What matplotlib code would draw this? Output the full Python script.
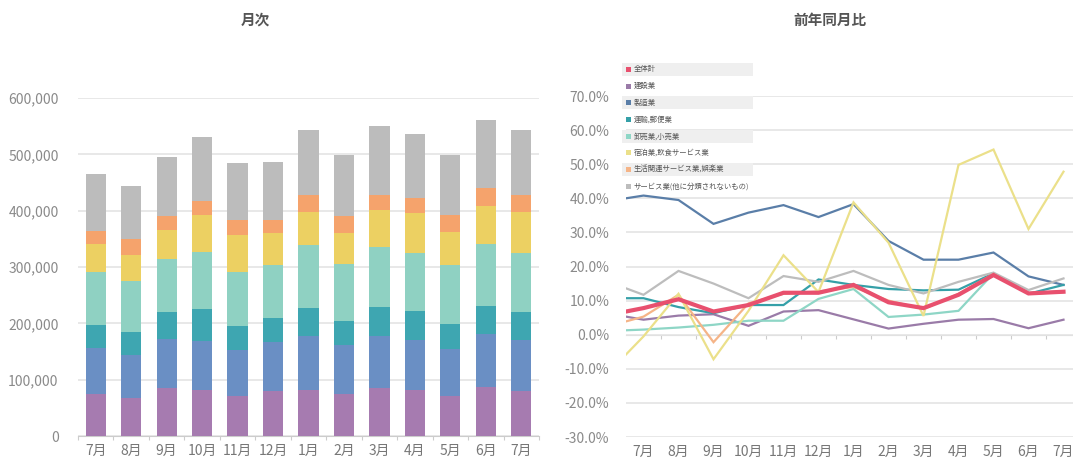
import matplotlib
matplotlib.use("Agg")
import matplotlib.pyplot as plt
from matplotlib.patches import Rectangle
from matplotlib.ticker import FuncFormatter
import numpy as np

plt.rcParams["font.family"] = ["Noto Sans CJK JP", "DejaVu Sans"]

# --- data ---
months = ["7月", "8月", "9月", "10月", "11月", "12月", "1月", "2月", "3月", "4月", "5月", "6月", "7月"]
names = ["全体計", "建設業", "製造業", "運輸,郵便業", "卸売業,小売業",
         "宿泊業,飲食サービス業", "生活関連サービス業,娯楽業", "サービス業(他に分類されないもの)"]

# 月次 (stacked, bottom -> top)
construction = [74500, 68000, 86000, 81000, 71000, 80000, 81000, 74000, 86000, 81000, 71000, 87000, 80000]
manufacturing = [82000, 75000, 86000, 88000, 82000, 86000, 96000, 87000, 92000, 90000, 84000, 94000, 90000]
transport = [41000, 41000, 48000, 56000, 42000, 44000, 50000, 44000, 51000, 51000, 44000, 49000, 50000]
wholesale = [94000, 91000, 95000, 102000, 96000, 93000, 112000, 100000, 107000, 103000, 104000, 111000, 105000]
hospitality = [50000, 47000, 51000, 65000, 65000, 57000, 59000, 56000, 65000, 70000, 59000, 68000, 73000]
lifestyle = [23000, 28000, 24000, 26000, 28000, 23000, 30000, 30000, 27000, 27000, 31000, 31000, 30000]
services = [100000, 93000, 106000, 113000, 101000, 104000, 115000, 108000, 122000, 114000, 106000, 121000, 115000]

# 前年同月比 (%) ; prev_* = previous June (clipped at the left edge)
yoy_total = [7.8, 10.4, 6.8, 8.7, 12.3, 12.3, 14.6, 9.5, 7.8, 11.7, 17.5, 12.1, 12.6]
yoy_construction = [4.4, 5.6, 6.0, 2.6, 6.8, 7.2, 4.5, 1.8, 3.2, 4.4, 4.6, 1.9, 4.4]
yoy_manufacturing = [40.8, 39.5, 32.5, 35.8, 38.0, 34.5, 38.3, 27.5, 22.0, 22.0, 24.1, 17.1, 14.6]
yoy_transport = [10.7, 8.1, 6.3, 8.7, 8.7, 16.2, 14.6, 13.4, 13.0, 13.2, 18.0, 12.0, 14.6]
yoy_wholesale = [1.5, 2.1, 2.9, 4.1, 4.1, 10.5, 13.4, 5.2, 5.9, 7.0, 18.0, 12.2, 12.7]
yoy_hospitality = [-0.5, 12.0, -7.2, 7.0, 23.3, 12.5, 38.8, 27.0, 5.5, 49.8, 54.3, 31.0, 47.8]
yoy_lifestyle = [5.3, 11.7, -2.2, 9.2, 12.0, 12.7, 14.0, 10.0, 7.5, 12.0, 17.8, 12.0, 12.5]
yoy_services = [11.7, 18.7, 15.0, 10.7, 17.2, 15.5, 18.7, 14.6, 12.1, 15.5, 18.2, 13.1, 16.5]
prev_june = [5.8, 6.2, 39.2, 10.7, 1.1, -11.1, 2.5, 15.5]

# --- colours ---
BAR_C = ["#a67bb0", "#6a8fc4", "#3ea6b1", "#8fd1c2", "#ecd062", "#f5a36c", "#bcbcbc"]
LINE_C = ["#e8506e", "#9a7ba8", "#5a7ea8", "#35a0a8", "#8ed6c6", "#ebe08a", "#f5b487", "#bdbdbd"]
GRID = "#e4e4e4"
TXT = "#8a8a8a"

W, H = 1073, 461
fig = plt.figure(figsize=(W / 100, H / 100), dpi=100)


def box(l, t, r, b):
    return [l / W, 1 - b / H, (r - l) / W, (b - t) / H]


# ---------------- 月次 ----------------
ax = fig.add_axes(box(78, 98, 539, 436))
x = np.arange(len(months))
stack = [construction, manufacturing, transport, wholesale, hospitality, lifestyle, services]
bottom = np.zeros(len(months))
for vals, c in zip(stack, BAR_C):
    ax.bar(x, vals, bottom=bottom, width=0.57, color=c, zorder=3)
    bottom += np.array(vals)

ax.set_xlim(-0.5, len(months) - 0.5)
ax.set_ylim(0, 600000)
ax.set_yticks(range(0, 600001, 100000))
ax.yaxis.set_major_formatter(FuncFormatter(lambda v, p: f"{int(v):,}"))
ax.grid(axis="y", color=GRID, lw=1.2, zorder=0)
for s in ["left", "right", "top"]:
    ax.spines[s].set_visible(False)
ax.spines["bottom"].set_color("#cccccc")
ax.tick_params(axis="y", length=0, labelsize=10, labelcolor=TXT, pad=14)
ax.set_xticks(np.arange(-0.5, len(months), 1.0))
ax.set_xticklabels([])
ax.tick_params(axis="x", which="major", length=3, color="#cccccc")
ax.set_xticks(x, minor=True)
ax.set_xticklabels(months, minor=True)
ax.tick_params(axis="x", which="minor", length=0, labelsize=10, labelcolor="#777777", pad=6)
fig.text(255 / W, 1 - 20 / H, "月次", ha="center", va="center", fontsize=10.5,
         weight="bold", color="#555555")

# ---------------- 前年同月比 ----------------
ax2 = fig.add_axes(box(626, 96, 1081, 437))
yoy = [yoy_total, yoy_construction, yoy_manufacturing, yoy_transport, yoy_wholesale,
       yoy_hospitality, yoy_lifestyle, yoy_services]
xl = np.arange(-1, len(months))
order = [1, 2, 3, 4, 7, 6, 5, 0]
for i in order:
    lw = 3.0 if i == 0 else 1.6
    ax2.plot(xl, [prev_june[i]] + yoy[i], color=LINE_C[i], lw=lw, zorder=5 if i == 0 else 3,
             solid_joinstyle="miter")

ax2.set_xlim(-0.5, len(months) - 0.5)
ax2.set_ylim(-30, 70)
ax2.set_yticks(range(-30, 71, 10))
ax2.yaxis.set_major_formatter(FuncFormatter(lambda v, p: f"{v:.1f}%"))
ax2.grid(axis="y", color=GRID, lw=1.2, zorder=0)
for s in ["left", "right", "top", "bottom"]:
    ax2.spines[s].set_visible(False)
ax2.tick_params(axis="y", length=0, labelsize=10, labelcolor=TXT, pad=12)
ax2.set_xticks(x)
ax2.set_xticklabels(months)
ax2.tick_params(axis="x", length=0, labelsize=10, labelcolor="#777777", pad=6)

sec = ax2.secondary_xaxis(0.3)
sec.set_xticks(np.arange(0.5, len(months) - 1, 1.0))
sec.set_xticklabels([])
sec.tick_params(length=3, color="#cccccc")
sec.spines["bottom"].set_color("#d8d8d8")

# legend (manual, alternating bands)
for k, (nm, c) in enumerate(zip(names, LINE_C)):
    yc = 69.5 + k * 16.7
    if k % 2 == 0:
        fig.patches.append(Rectangle(((622) / W, 1 - (yc + 6.5) / H), 131 / W, 13 / H,
                                     transform=fig.transFigure, facecolor="#efefef",
                                     edgecolor="none", zorder=10))
    fig.patches.append(Rectangle((626 / W, 1 - (yc + 2.5) / H), 5 / W, 5 / H,
                                 transform=fig.transFigure, facecolor=c,
                                 edgecolor="none", zorder=11))
    fig.text(634 / W, 1 - yc / H, nm, ha="left", va="center", fontsize=5.3,
             color="#555555", zorder=12)

fig.text(830 / W, 1 - 20 / H, "前年同月比", ha="center", va="center", fontsize=10.5,
         weight="bold", color="#555555")

fig.savefig("out.png", dpi=100, facecolor="white")
